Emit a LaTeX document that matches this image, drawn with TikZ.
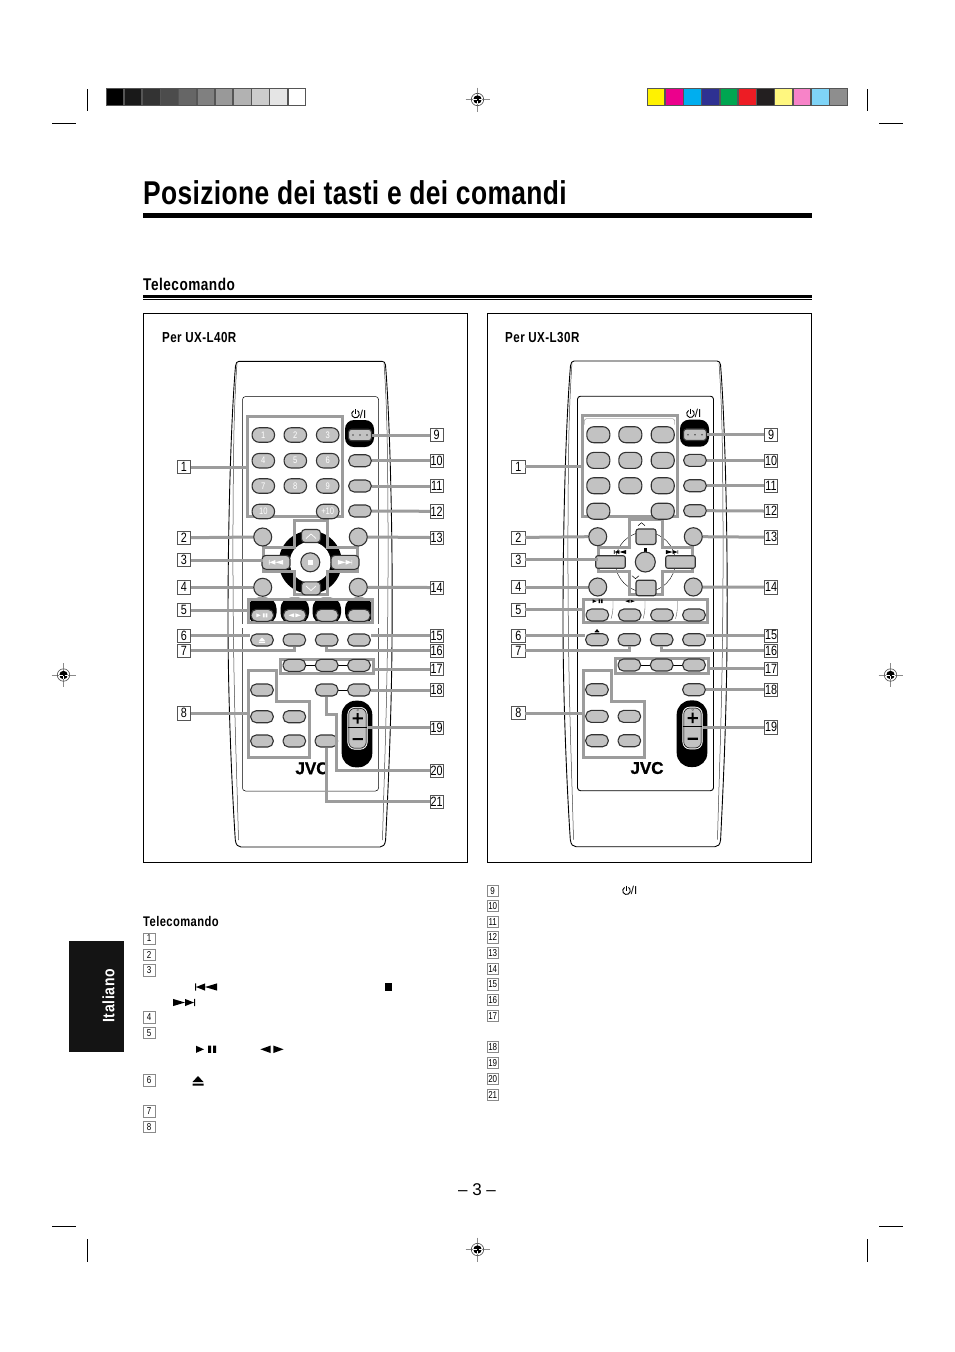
\documentclass[tikz,border=0pt]{standalone}
\usepackage{fontspec}
\setmainfont{Liberation Sans}
\newfontfamily\condl[FakeStretch=0.8]{Liberation Sans}
\newfontfamily\condt[FakeStretch=0.8,LetterSpace=1.1]{Liberation Sans}
\newfontfamily\condh[FakeStretch=0.8,LetterSpace=3]{Liberation Sans}
\newfontfamily\condx[FakeStretch=0.85,LetterSpace=4]{Liberation Sans}
\newfontfamily\jvcf[FakeBold=1.2]{Liberation Sans}
\usetikzlibrary{calc}
\definecolor{callgrey}{HTML}{9C9C9C}
\definecolor{btngrey}{HTML}{C2C2C2}
\definecolor{btnline}{HTML}{333333}
\definecolor{markgrey}{HTML}{8A8A8A}
\definecolor{stripe}{HTML}{555555}
\newif\ifmodelA
\def\lshift{0pt}
\tikzset{
  rbtn/.style={draw=btnline,fill=btngrey,line width=1.1pt,rounded corners=5.5pt,inner sep=0pt,minimum width=22.5pt,minimum height=12pt,font=\condl\fontsize{9.5}{9.5}\selectfont,text=white},
  dbtn/.style={rbtn,rounded corners=7pt,minimum width=\dbw,minimum height=\dbh},
  rnd/.style={circle,draw=btnline,fill=btngrey,line width=1.1pt,inner sep=0pt,minimum size=18pt},
  frame/.style={draw=callgrey,line width=3pt,line join=miter},
  callout/.style={draw=callgrey,line width=3pt},
  lab/.style={draw=stripe,line width=.5pt,fill=white,inner sep=0pt,minimum width=13.2pt,minimum height=13.2pt,xshift=\lshift,font=\condl\fontsize{13.5}{13.5}\selectfont},
  slab/.style={draw=markgrey,line width=.5pt,fill=white,inner sep=0pt,minimum width=11.4pt,minimum height=11.4pt,font=\condl\fontsize{10}{10}\selectfont},
  body/.style={draw=black,line width=.9pt,line join=round},
  bodyin/.style={draw=black!75,line width=.5pt},
  head/.style={anchor=base west,inner sep=0pt,font=\condh\bfseries\fontsize{14.5}{14.5}\selectfont},
  crop/.style={draw=black,line width=.7pt},
}
% symbols: x, y, scale, colour
\newcommand\symPrev[4]{\begin{scope}[shift={(#1,#2)},scale=#3]\fill[#4] (-11,-3.6) rectangle (-10,3.6) (-10,0)--(-1,-3.6)--(-1,3.6)--cycle (-1,0)--(11,-3.6)--(11,3.6)--cycle;\end{scope}}
\newcommand\symNext[4]{\begin{scope}[shift={(#1,#2)},scale=#3]\fill[#4] (11,-3.6) rectangle (10,3.6) (10,0)--(1,-3.6)--(1,3.6)--cycle (1,0)--(-11,-3.6)--(-11,3.6)--cycle;\end{scope}}
\newcommand\symPlay[4]{\begin{scope}[shift={(#1,#2)},scale=#3]\fill[#4] (-11,-3.6)--(-11,3.6)--(-3,0)--cycle (1,-3.6) rectangle (4,3.6) (6,-3.6) rectangle (9,3.6);\end{scope}}
\newcommand\symRF[4]{\begin{scope}[shift={(#1,#2)},scale=#3]\fill[#4] (-1.2,-3.6)--(-1.2,3.6)--(-11,0)--cycle (1.2,-3.6)--(1.2,3.6)--(11,0)--cycle;\end{scope}}
\newcommand\symEject[4]{\begin{scope}[shift={(#1,#2)},scale=#3]\fill[#4] (-5.5,1.5)--(5.5,1.5)--(0,-4.5)--cycle (-5.5,3) rectangle (5.5,5);\end{scope}}
\newcommand\symStop[4]{\begin{scope}[shift={(#1,#2)},scale=#3]\fill[#4] (-4,-4) rectangle (4,4);\end{scope}}
\newcommand\symPower[3]{\begin{scope}[shift={(#1,#2)}]
  \draw[black,line width=.9pt] ({-4.5+3.8*cos(120)},{-3.8*sin(120)}) arc[start angle=120,end angle=420,radius=3.8pt];
  \draw[black,line width=.9pt] (-4.5,-5)--(-4.5,0);
  \node[anchor=west,inner sep=0pt,font=\fontsize{11.5}{11.5}\selectfont] (#3) at (-.4,0) {/I};\end{scope}}
\newcommand\regmark[3]{\begin{scope}[shift={(#1,#2)}]
  \draw[markgrey,line width=.5pt] (-12,0)--(12,0) (0,-12)--(0,12);
  \draw[black!70,line width=.6pt] (0,0) circle[radius=6.2pt];
  \fill[black] (0,0) circle[radius=4.2pt];
  \draw[white,line width=.8pt] (-4.3,0)--(-1,0) (1,0)--(4.3,0) (0,1)--(0,4.3);
\end{scope}}
\newcommand\remote{%
  % body
  \draw[body] (239,361.3) -- (382,361.3) .. controls (384,361.3) and (385,362.5) .. (385.5,365)
     .. controls (390,420) and (393,540) .. (392,640) .. controls (391.5,720) and (388,790) .. (385.6,840)
     .. controls (385,845) and (383,847) .. (380,847) -- (241,847) .. controls (238,847) and (236,845) .. (235.3,840)
     .. controls (232,790) and (228,700) .. (228,620) .. controls (228,520) and (231,420) .. (235.5,366)
     .. controls (236,363) and (237,361.3) .. (239,361.3) -- cycle;
  \draw[bodyin] (237,363) .. controls (235.5,385) and (234.6,405) .. (234,430) .. controls (233,480) and (232.5,560) .. (233.5,640) .. controls (234.5,720) and (237,780) .. (238.5,840);
  \draw[bodyin] (384,363) .. controls (385.5,385) and (386.4,405) .. (387,430) .. controls (388,480) and (388.5,560) .. (387.5,640) .. controls (386.5,720) and (384,780) .. (382.5,840);
  % panel
  \ifmodelA\def\pw{.5pt}\else\def\pw{.9pt}\fi
  \draw[black,line width=\pw,rounded corners=3pt,fill=white] (242.5,396.5) rectangle (378.5,791);
  % transport ring
  \ifmodelA
    \fill[black] (310.3,562.3) circle[radius=31.5pt];
    \fill[white] (310.3,562.3) circle[radius=20.5pt];
  \else
    \draw[black,line width=.4pt] (310.3,562.3) circle[radius=30pt];
  \fi
  % black hoods of the power button, row 5 and volume
  \fill[black,rounded corners=9pt] (345,420) rectangle (374,447);
  \fill[black,rounded corners=14pt] (341.7,700.7) rectangle (372.3,767.3);
  \ifmodelA
    \fill[black,rounded corners=11pt] (248,597.5) rectangle (276.5,624);
    \fill[black,rounded corners=11pt] (280.5,597.5) rectangle (309,624);
    \fill[black,rounded corners=11pt] (312.5,597.5) rectangle (341,624);
    \fill[black,rounded corners=11pt] (345,597.5) rectangle (373,624);
    \fill[white] (240,623.9) rectangle (380,628);
  \else
    \draw[black!70,line width=.35pt,rounded corners=4pt] (276,619) -- (278,612) -- (278,601);
    \draw[black!70,line width=.35pt,rounded corners=4pt] (308,619) -- (310,612) -- (310,601);
    \draw[black!70,line width=.35pt,rounded corners=4pt] (340.5,619) -- (342.3,612) -- (342.3,601);
    \draw[black!60,line width=.35pt,rounded corners=2pt] (249.5,425) -- (249.5,419) -- (339.5,419) -- (339.5,425);
  \fi
  % link lines
  \ifmodelA\draw[black,line width=1.2pt] (294.3,665.3) -- (359,665.3);
  \draw[black,line width=.8pt] (326.7,690) -- (359,690);
  \else\draw[black,line width=.6pt] (294.3,665.3) -- (359,665.3);\fi
  % frames
  \draw[frame] (247.3,416) rectangle (342,516.7);
  \coordinate (f1) at (247.3,467);
  \draw[frame] (263.3,547.7) -- (294,547.7) -- (294,520) -- (327.3,520) -- (327.3,547.7) -- (357.7,547.7) -- (357.7,571.7) -- (327.3,571.7) -- (327.3,594.3) -- (294,594.3) -- (294,571.7) -- (263.3,571.7) -- cycle;
  \coordinate (f3) at (263.3,560);
  \draw[frame] (248.7,599.3) rectangle (372.7,622.7);
  \coordinate (f5) at (248.7,610);
  \draw[frame] (248,670.3) -- (276.7,670.3) -- (276.7,701.7) -- (309,701.7) -- (309,757.7) -- (248,757.7) -- cycle;
  \coordinate (f8) at (248,713.3);
  \draw[frame] (280.7,659) rectangle (373.3,673.7);
  \coordinate (f17) at (373.3,669);
  % digit buttons
  \ifmodelA\def\dbw{22.5pt}\def\dbh{14.5pt}\else\def\dbw{23pt}\def\dbh{16pt}\fi
  \node[dbtn] (d1) at (263.3,435) {\ifmodelA 1\fi};
  \node[dbtn] (d2) at (295.3,435) {\ifmodelA 2\fi};
  \node[dbtn] (d3) at (327.7,435) {\ifmodelA 3\fi};
  \node[dbtn] (d4) at (263.3,460.7) {\ifmodelA 4\fi};
  \node[dbtn] (d5) at (295.3,460.7) {\ifmodelA 5\fi};
  \node[dbtn] (d6) at (327.7,460.7) {\ifmodelA 6\fi};
  \node[dbtn] (d7) at (263.3,486) {\ifmodelA 7\fi};
  \node[dbtn] (d8) at (295.3,486) {\ifmodelA 8\fi};
  \node[dbtn] (d9) at (327.7,486) {\ifmodelA 9\fi};
  \node[dbtn] (d10) at (263.3,511.5) {\ifmodelA 10\fi};
  \node[dbtn] (d11) at (327.7,511.5) {\ifmodelA +10\fi};
  % power
  \node[rbtn,rounded corners=3pt,minimum width=23pt,minimum height=11.5pt] (pw) at (360,435) {};
  \fill[black!70] (353,435) circle[radius=.9pt] (360,435) circle[radius=.9pt] (367,435) circle[radius=.9pt];
  \symPower{360}{414}{pwl}
  \node[rbtn] (b10) at (360,460.7) {};
  \node[rbtn] (b11) at (360,486) {};
  \node[rbtn] (b12) at (360,511) {};
  \node[rnd] (b2) at (262.7,537) {};
  \node[rnd] (b13) at (358.3,537) {};
  \node[rnd] (b4) at (262.7,587.3) {};
  \node[rnd] (b14) at (358.3,587.3) {};
  \ifmodelA
    \node[rbtn,rounded corners=3.5pt,minimum width=19pt,minimum height=13pt] (tu) at (311,536) {};
    \node[rbtn,rounded corners=3.5pt,minimum width=19pt,minimum height=13pt] (td) at (311,588.3) {};
    \draw[white,line width=.7pt] (306,538.5)--(311,534)--(316,538.5);
    \draw[white,line width=.7pt] (306,586)--(311,590.5)--(316,586);
    \node[rbtn,rounded corners=4pt,minimum width=28pt,minimum height=14pt] (tl) at (276,562.3) {};
    \node[rbtn,rounded corners=4pt,minimum width=28pt,minimum height=14pt] (tr) at (345,562.3) {};
    \symPrev{276}{562.3}{.65}{white}
    \symNext{345}{562.3}{.65}{white}
  \else
    \node[rbtn,rounded corners=2.5pt,minimum width=20pt,minimum height=15.5pt] (tu) at (311,537) {};
    \node[rbtn,rounded corners=2.5pt,minimum width=20pt,minimum height=15.5pt] (td) at (311,588.3) {};
    \draw[black,line width=.5pt] (303,526)--(306.5,523)--(310,526);
    \draw[black,line width=.5pt] (297,576)--(300.5,579)--(304,576);
    \node[rbtn,rounded corners=2pt,minimum width=29.5pt,minimum height=12.5pt] (tl) at (275.5,562.3) {};
    \node[rbtn,rounded corners=2pt,minimum width=29.5pt,minimum height=12.5pt] (tr) at (345.5,562.3) {};
    \symPrev{285}{552.3}{.55}{black}
    \symNext{337}{552.3}{.55}{black}
    \symStop{310.5}{550}{.45}{black}
  \fi
  \node[rnd,minimum size=\ifmodelA 19pt\else 20pt\fi] (ts) at (310.3,562.3) {};
  \ifmodelA\symStop{310.3}{562.3}{.6}{white}\fi
  % row 5
  \node[rbtn] (r5a) at (262.3,615.3) {};
  \node[rbtn] (r5b) at (294.7,615.3) {};
  \node[rbtn] (r5c) at (327,615.3) {};
  \node[rbtn] (r5d) at (359,615.3) {};
  \ifmodelA
    \symPlay{262.3}{615.3}{.55}{white}
    \symRF{294.7}{615.3}{.55}{white}
  \else
    \symPlay{263}{601.5}{.5}{black}
    \symRF{295}{601.5}{.42}{black}
  \fi
  % row 6
  \node[rbtn] (b6) at (262,640) {};
  \node[rbtn] (b7) at (294.3,640) {};
  \node[rbtn] (b16) at (326.7,640) {};
  \node[rbtn] (b15) at (359,640) {};
  \ifmodelA\symEject{262}{640}{.55}{white}\else\symEject{262}{631.5}{.45}{black}\fi
  % row 17
  \node[rbtn] (c1) at (294.3,665.3) {};
  \node[rbtn] (c2) at (326.7,665.3) {};
  \node[rbtn] (c3) at (359,665.3) {};
  % lower groups
  \node[rbtn] (m1) at (262,690) {};
  \node[rbtn] (m2) at (262,716.7) {};
  \node[rbtn] (m3) at (294.3,716.7) {};
  \node[rbtn] (m4) at (262,741) {};
  \node[rbtn] (m5) at (294.3,741) {};
  \node[rbtn] (b18) at (359,690) {};
  \ifmodelA
    \node[rbtn] (b20) at (326.7,690) {};
    \node[rbtn] (b21) at (326.3,741) {};
  \fi
  % volume
  \node[rbtn,rounded corners=7pt,minimum width=19.5pt,minimum height=42pt,draw=white,line width=.6pt] (vol) at (357.5,728.3) {};
  \draw[black,rounded corners=6pt,line width=.5pt] (348.8,708.4) rectangle (366.2,748.2);
  \draw[black,line width=.8pt] (347.7,726.9) -- (367.3,726.9);
  \fill[black] (356.7,713) rectangle (358.7,723.5) (352.5,717.3) rectangle (362.9,719.3) (352.5,738) rectangle (362.9,740.2);
  \draw[black!60,line width=.3pt] (357.7,710) circle[radius=1pt];
  \node[font=\jvcf\bfseries\fontsize{17}{17}\selectfont,inner sep=0pt] (jvc) at (312,768.3) {JVC};
  % labels
  \node[lab] (l1) at (184,467) {1};
  \node[lab] (l2) at (184,537.7) {2};
  \node[lab] (l3) at (184,560) {3};
  \node[lab] (l4) at (184,587.3) {4};
  \node[lab] (l5) at (184,610) {5};
  \node[lab] (l6) at (184,635.7) {6};
  \node[lab] (l7) at (184,650.7) {7};
  \node[lab] (l8) at (184,713.3) {8};
  \node[lab] (l9) at (436.7,435) {9};
  \node[lab] (l10) at (436.7,460.7) {10};
  \node[lab] (l11) at (436.7,486) {11};
  \node[lab] (l12) at (436.7,511.3) {12};
  \node[lab] (l13) at (436.7,537.5) {13};
  \node[lab] (l14) at (436.7,587.5) {14};
  \node[lab] (l15) at (436.7,635.7) {15};
  \node[lab] (l16) at (436.7,650.7) {16};
  \node[lab] (l17) at (436.7,669) {17};
  \node[lab] (l18) at (436.7,690) {18};
  \node[lab] (l19) at (436.7,727.5) {19};
  % connectors
  \draw[callout] (l1.east) -- (f1);
  \draw[callout] (l2.east) -- (b2.west);
  \draw[callout] (l3.east) -- (f3);
  \draw[callout] (l4.east) -- (b4.west);
  \draw[callout] (l5.east) -- (f5);
  \draw[callout] (l6.east) -- (b6.west |- l6.east);
  \draw[callout] (l7.east) -| (b7.south);
  \draw[callout] (l8.east) -- (f8);
  \draw[callout] (l9.west) -- (pw.east);
  \draw[callout] (l10.west) -- (b10.east);
  \draw[callout] (l11.west) -- (b11.east);
  \draw[callout] (l12.west) -- (b12.east);
  \draw[callout] (l13.west) -- (b13.east);
  \draw[callout] (l14.west) -- (b14.east);
  \draw[callout] (l15.west) -- (b15.east |- l15.west);
  \draw[callout] (l16.west) -| (b16.south);
  \draw[callout] (l17.west) -- (f17);
  \draw[callout] (l18.west) -- (b18.east);
  \draw[callout] (l19.west) -- (vol.east |- l19.west);
  \ifmodelA
    \node[lab] (l20) at (436.7,770.5) {20};
    \node[lab] (l21) at (436.7,801.5) {21};
    \coordinate (k1) at (336.7,770.5);
    \coordinate (k2) at (336.7,714);
    \coordinate (k3) at (326.7,714);
    \draw[callout] (l20.west) -- (k1) -- (k2) -- (k3) -- (b20.south);
    \draw[callout] (l21.west) -| (b21.south);
  \fi
}
\begin{document}
\begin{tikzpicture}[x=1pt,y=-1pt]
\useasboundingbox (0,0) rectangle (954,1352);
\fill[white] (0,0) rectangle (954,1352);
% grey strip
\fill[stripe] (106,88) rectangle (306,105.7);
\foreach \i/\c in {0/0,1/10,2/20,3/30,4/40,5/50,6/60,7/70,8/80,9/90,10/100}{
  \fill[black!\fpeval{100-\c}!white] ({106.7+\i*18.18},89) rectangle ({106.7+\i*18.18+16.6},104.7);
}
% colour strip
\fill[stripe] (646.7,88) rectangle (848.3,105.7);
\foreach \i/\c in {0/FFF200,1/EC008C,2/00AEEF,3/2E3192,4/00A651,5/ED1C24,6/231F20,7/FFF77F,8/F783C8,9/7FD4F7,10/8E8E8E}{
  \definecolor{cellc}{HTML}{\c}
  \fill[cellc] ({647.7+\i*18.25},89) rectangle ({647.7+\i*18.25+16.6},104.7);
}
% crop marks
\draw[crop] (87,89)--(87,111) (52,123)--(76,123) (867,89)--(867,111) (879,123)--(903,123);
\draw[crop] (87,1239)--(87,1262) (52,1226)--(76,1226) (867,1239)--(867,1262) (879,1226)--(903,1226);
\regmark{477.5}{99.5}{}
\regmark{63.5}{675}{}
\regmark{890.5}{675}{}
\regmark{477.5}{1249.5}{}
% heading
\node[anchor=base west,inner sep=0pt,font=\condt\bfseries\fontsize{33}{33}\selectfont] (title) at (143,204) {Posizione dei tasti e dei comandi};
\fill[black] (143,213) rectangle (812,218);
\node[head,font=\condh\bfseries\fontsize{17}{17}\selectfont] (tel1) at (143,290) {Telecomando};
\fill[black] (143,295) rectangle (812,297.5);
\fill[black] (143,299) rectangle (812,300);
% boxes
\draw[black,line width=.7pt] (143.5,313.5) rectangle (467.5,862.5);
\draw[black,line width=.7pt] (487.5,313.5) rectangle (811.5,862.5);
\node[head] (perA) at (162,342) {Per UX-L40R};
\node[head] (perB) at (505,342) {Per UX-L30R};
% remotes
\begin{scope}[name prefix=a-]
  \modelAtrue\def\lshift{0pt}
  \remote
\end{scope}
\begin{scope}[shift={(335,-.3)},name prefix=b-]
  \modelAfalse\def\lshift{-.7pt}
  \remote
\end{scope}
% side tab
\fill[black!92] (69.3,941) rectangle (124,1051.7);
\node[rotate=90,text=white,inner sep=0pt,font=\condx\bfseries\fontsize{16.5}{16.5}\selectfont] (ital) at (108.5,996) {Italiano};
% key, left
\node[head,font=\condh\bfseries\fontsize{14}{14}\selectfont] (tel2) at (143,926.5) {Telecomando};
\foreach \n/\y in {1/938.5,2/954.5,3/970.3,4/1017.3,5/1033,6/1080.3,7/1111.3,8/1127}{
  \node[slab] (k\n) at (149.2,\y) {\n};
}
\symPrev{206}{987}{1}{black}
\symStop{388.3}{987}{.9}{black}
\symNext{184}{1002.5}{1}{black}
\symPlay{207}{1049.3}{1}{black}
\symRF{272}{1049.3}{1.05}{black}
\symEject{198}{1080.5}{1}{black}
% key, right
\foreach \n/\y in {9/890.7,10/906,11/921.7,12/937.3,13/953,14/968.7,15/984.3,16/1000,17/1016,18/1047,19/1063,20/1079,21/1094.7}{
  \node[slab] (k\n) at (492.7,\y) {\n};
}
\symPower{631}{890.7}{pwk}
% folio
\node[font=\fontsize{17}{17}\selectfont,inner sep=0pt] (folio) at (477,1189.5) {– 3 –};
\end{tikzpicture}
\end{document}
